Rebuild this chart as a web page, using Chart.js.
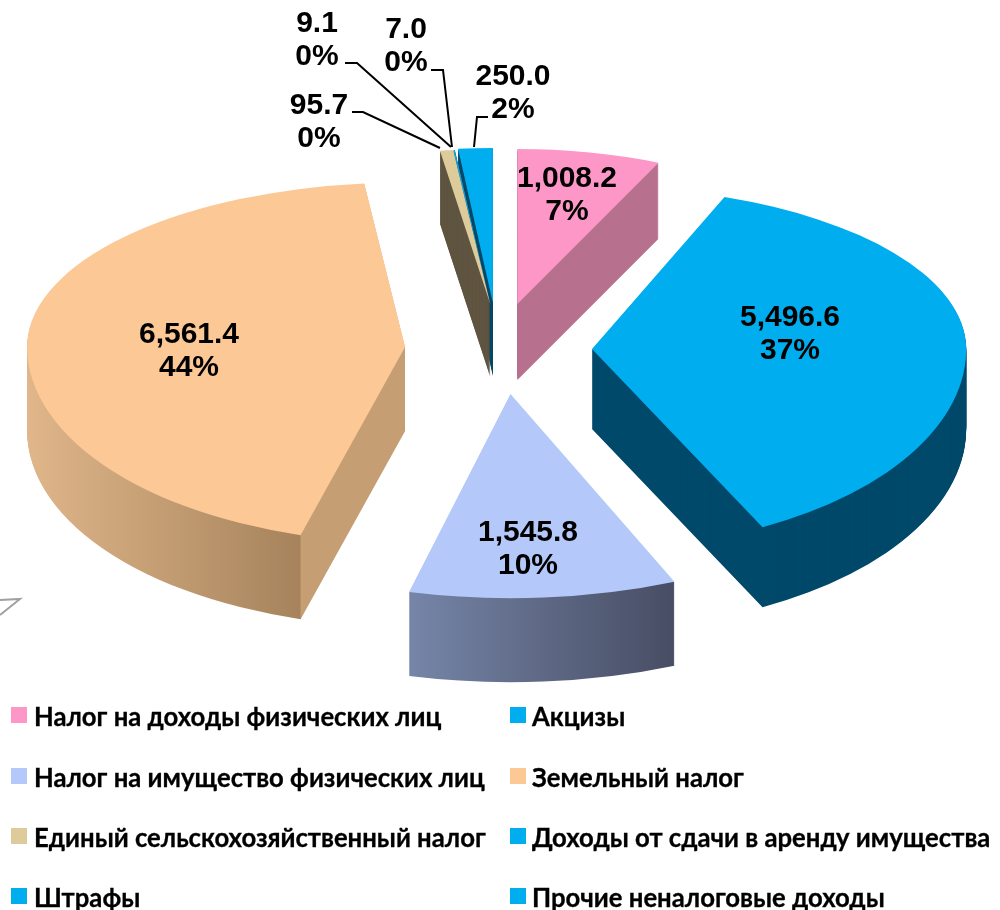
<!DOCTYPE html>
<html>
<head>
<meta charset="utf-8">
<script src="https://cdn.jsdelivr.net/npm/chart.js@4/dist/chart.umd.min.js"></script>
<style>
body { margin: 0; background: #fff; }
#wrap { position: relative; width: 1000px; height: 910px; overflow: hidden; }
#legend { position: absolute; left: 0; top: 0; font: bold 25.7px Lato, "Open Sans", sans-serif; color: #000; -webkit-text-stroke: 0.3px #000; }
.item { position: absolute; white-space: nowrap; line-height: 30px; }
.swatch { position: absolute; width: 16px; height: 16px; top: 6px; }
</style>
</head>
<body>
<div id="wrap">
<canvas id="pieChart" width="1000" height="910"></canvas>
<div id="legend"></div>
</div>
<script>
const categories = ['Налог на доходы физических лиц', 'Акцизы', 'Налог на имущество физических лиц', 'Земельный налог',
    'Единый сельскохозяйственный налог', 'Доходы от сдачи в аренду имущества', 'Штрафы', 'Прочие неналоговые доходы'];
const values = [1008.2, 5496.6, 1545.8, 6561.4, 95.7, 9.1, 7.0, 250.0];
const valueLabels = ['1,008.2', '5,496.6', '1,545.8', '6,561.4', '95.7', '9.1', '7.0', '250.0'];
const percentLabels = ['7%', '37%', '10%', '44%', '0%', '0%', '0%', '2%'];

const faceColors = ['#FC97C8', '#00AEEF', '#B4C9FA', '#FBC896', '#DDCB9B', '#00AEEF', '#00AEEF', '#00AEEF'];
// wall colours, [x on screen, colour] stops
const wallStops = [
    [[0, '#B8708F']],
    [[0, '#00496A']],
    [[409, '#7685A8'], [675, '#474D63']],
    [[27, '#E0B68A'], [300, '#A6835C'], [301, '#C59E73'], [405, '#C59E73']],
    [[0, '#5F5540']],
    [[0, '#00496A']],
    [[0, '#00496A']],
    [[0, '#00496A']]
];

// the picture has perspective, so back and front of the pie are not squashed the same
const scaleUp = [0.41, 0.43, 0.43, 0.435, 0.41, 0.41, 0.41, 0.41];
const scaleDown = [0.53, 0.53, 0.54, 0.518, 0.53, 0.53, 0.53, 0.53];
const scaleX = [0.91, 0.99, 1.105, 1, 0.88, 0.88, 0.88, 0.88];
const nudgeX = [2, 0, 7, 7, 8, 6, 5, 3];
const turnDeg = [0, -3.5, 0.5, 2.5, 0, 0, 0, 0];
const depths = [76, 80, 84, 84, 73, 73, 73, 73];
const explode = 97;
const midY = 349;
const drawOrder = [7, 6, 5, 4, 0, 3, 1, 2];

// label centre x, first line y
const labelPos = [[567, 179], [790, 318], [528, 533], [189, 335], [319, 106], [317, 24], [406, 30], [513, 77]];
const leaders = [
    [[352, 112], [363, 112], [440, 148]],
    [[345, 63], [357, 63], [451, 147]],
    [[431, 70], [443, 70], [452, 147]],
    [[488, 117], [477, 117], [474, 147]]
];
const legendCols = [[11, 34], [510, 532]];
const legendRows = [716, 777, 837, 897];

function wallFill(ctx, i, arc, apexX) {
    const stops = wallStops[i];
    if (stops.length === 1) return stops[0][1];
    const toUser = x => arc.x + (x - apexX) / scaleX[i];
    const x0 = stops[0][0], x1 = stops[stops.length - 1][0];
    const grad = ctx.createLinearGradient(toUser(x0), 0, toUser(x1), 0);
    stops.forEach(s => grad.addColorStop((s[0] - x0) / (x1 - x0), s[1]));
    return grad;
}

function drawSquashed(ctx, arc, i, fill, apexX, apexY, scale, clipY, clipH) {
    const turn = turnDeg[i] * Math.PI / 180;
    const copy = Object.create(arc);
    copy.startAngle = arc.startAngle + turn;
    copy.endAngle = arc.endAngle + turn;
    copy.options = { ...arc.options, backgroundColor: fill, borderWidth: 0 };
    ctx.save();
    ctx.beginPath();
    ctx.rect(0, clipY, 1000, clipH);
    ctx.clip();
    ctx.translate(apexX, apexY);
    ctx.scale(scaleX[i], scale);
    ctx.translate(-arc.x, -arc.y);
    copy.draw(ctx);
    ctx.restore();
}

const pie3d = {
    id: 'pie3d',
    beforeDatasetsDraw(chart) {
        const ctx = chart.ctx;
        const arcs = chart.getDatasetMeta(0).data;
        drawOrder.forEach(i => {
            const arc = arcs[i];
            const mid = (arc.startAngle + arc.endAngle) / 2;
            const apexX = arc.x + Math.cos(mid) * explode + nudgeX[i];
            const apexY = Math.round(midY + Math.sin(mid) * explode * 0.47);
            const wall = wallFill(ctx, i, arc, apexX);
            for (let k = depths[i]; k >= 1; k--) {
                drawSquashed(ctx, arc, i, wall, apexX, apexY + k, scaleUp[i], 0, apexY + k);
                drawSquashed(ctx, arc, i, wall, apexX, apexY + k, scaleDown[i], apexY + k, 910);
            }
            drawSquashed(ctx, arc, i, faceColors[i], apexX, apexY, scaleUp[i], 0, apexY);
            drawSquashed(ctx, arc, i, faceColors[i], apexX, apexY, scaleDown[i], apexY, 910);
        });
        return false;
    },
    afterDraw(chart) {
        const ctx = chart.ctx;
        ctx.save();
        ctx.strokeStyle = '#000';
        ctx.lineWidth = 2;
        leaders.forEach(pts => {
            ctx.beginPath();
            pts.forEach((p, n) => n ? ctx.lineTo(p[0], p[1]) : ctx.moveTo(p[0], p[1]));
            ctx.stroke();
        });
        // small stray mark left of the pie
        ctx.strokeStyle = '#A0A0A0';
        ctx.beginPath();
        ctx.moveTo(0, 600);
        ctx.lineTo(20, 599);
        ctx.lineTo(0, 615);
        ctx.stroke();

        ctx.fillStyle = '#000';
        ctx.font = 'bold 30px "Liberation Sans", Arial, sans-serif';
        ctx.textAlign = 'center';
        ctx.textBaseline = 'middle';
        labelPos.forEach((p, i) => {
            ctx.fillText(valueLabels[i], p[0], p[1]);
            ctx.fillText(percentLabels[i], p[0], p[1] + 33);
        });
        ctx.restore();
    }
};

new Chart(document.getElementById('pieChart'), {
    type: 'pie',
    data: {
        labels: categories,
        datasets: [{
            data: values,
            backgroundColor: faceColors,
            borderWidth: 0,
            radius: 378
        }]
    },
    options: {
        responsive: false,
        animation: false,
        layout: { padding: { right: 10 } },
        plugins: { legend: { display: false }, tooltip: { enabled: false } }
    },
    plugins: [pie3d]
});

const legendEl = document.getElementById('legend');
categories.forEach((name, i) => {
    const col = legendCols[i % 2], row = legendRows[Math.floor(i / 2)];
    const item = document.createElement('div');
    item.className = 'item';
    item.style.left = col[1] + 'px';
    item.style.top = (row - 15) + 'px';
    item.textContent = name;
    const sw = document.createElement('div');
    sw.className = 'swatch';
    sw.style.background = faceColors[i];
    sw.style.left = (col[0] - col[1]) + 'px';
    item.appendChild(sw);
    legendEl.appendChild(item);
});
</script>
</body>
</html>
